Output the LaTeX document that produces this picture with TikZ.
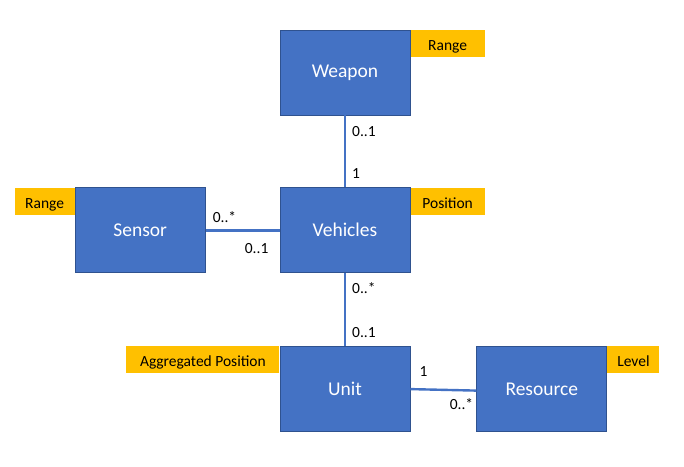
\documentclass[tikz,border=0pt]{standalone}
\usepackage{fontspec}
\setmainfont{Carlito}
\usetikzlibrary{positioning}
\definecolor{boxblue}{HTML}{4472C4}
\definecolor{boxedge}{HTML}{2F528F}
\definecolor{tagorange}{HTML}{FFC000}

\begin{document}
\begin{tikzpicture}[
    x=1bp, y=-1bp,
    entity/.style={
      draw=boxedge, line width=0.8bp, fill=boxblue, text=white,
      minimum width=130bp, minimum height=85bp, inner sep=0pt,
      font=\fontsize{19.5bp}{23bp}\selectfont
    },
    attr/.style={
      fill=tagorange, minimum height=27bp, inner sep=0pt,
      text height=14bp, text depth=0pt,
      font=\fontsize{15.5bp}{18bp}\selectfont
    },
    mult/.style={inner sep=0pt, font=\fontsize{15.5bp}{18bp}\selectfont},
    link/.style={draw=boxblue, line width=2.4bp}
]
\useasboundingbox (0,0) rectangle (684,467);

% Entities
\node[entity] (weapon) at (345,72.5) {Weapon};
\node[entity, below=72bp of weapon] (vehicles) {Vehicles};
\node[entity, left=74bp of vehicles] (sensor) {Sensor};
\node[entity, below=73bp of vehicles] (unit) {Unit};
\node[entity, right=66bp of unit] (resource) {Resource};

% Attributes
\node[attr, minimum width=74bp, anchor=north west] (weapon-range) at (weapon.north east) {Range};
\node[attr, minimum width=60bp, anchor=north east] (sensor-range) at (sensor.north west) {Range};
\node[attr, minimum width=74bp, anchor=north west] (vehicles-pos) at (vehicles.north east) {Position};
\node[attr, minimum width=153bp, anchor=north east] (unit-pos) at (unit.north west) {Aggregated Position};
\node[attr, minimum width=52bp, anchor=north west] (resource-level) at (resource.north east) {Level};

% Links
\draw[link] (weapon) -- (vehicles);
\draw[link] (sensor) -- (vehicles);
\draw[link] (vehicles) -- (unit);
\draw[link] (unit.east) -- ([yshift=-1.5bp]resource.west);

% Multiplicities
\node[mult, anchor=west] (m-wv) at ([xshift=7bp, yshift=-16bp]weapon.south) {0..1};
\node[mult, anchor=west] (m-vw) at ([xshift=7bp, yshift=13.5bp]vehicles.north) {1};
\node[mult, anchor=west] (m-sv) at ([xshift=7bp, yshift=13.5bp]sensor.east) {0..*};
\node[mult, anchor=east] (m-vs) at ([xshift=-11bp, yshift=-18.5bp]vehicles.west) {0..1};
\node[mult, anchor=west] (m-vu) at ([xshift=7bp, yshift=-15bp]vehicles.south) {0..*};
\node[mult, anchor=west] (m-uv) at ([xshift=7bp, yshift=14bp]unit.north) {0..1};
\node[mult, anchor=west] (m-ur) at ([xshift=9bp, yshift=17.5bp]unit.east) {1};
\node[mult, anchor=east] (m-ru) at ([xshift=-3bp, yshift=-14.5bp]resource.west) {0..*};

\end{tikzpicture}
\end{document}
